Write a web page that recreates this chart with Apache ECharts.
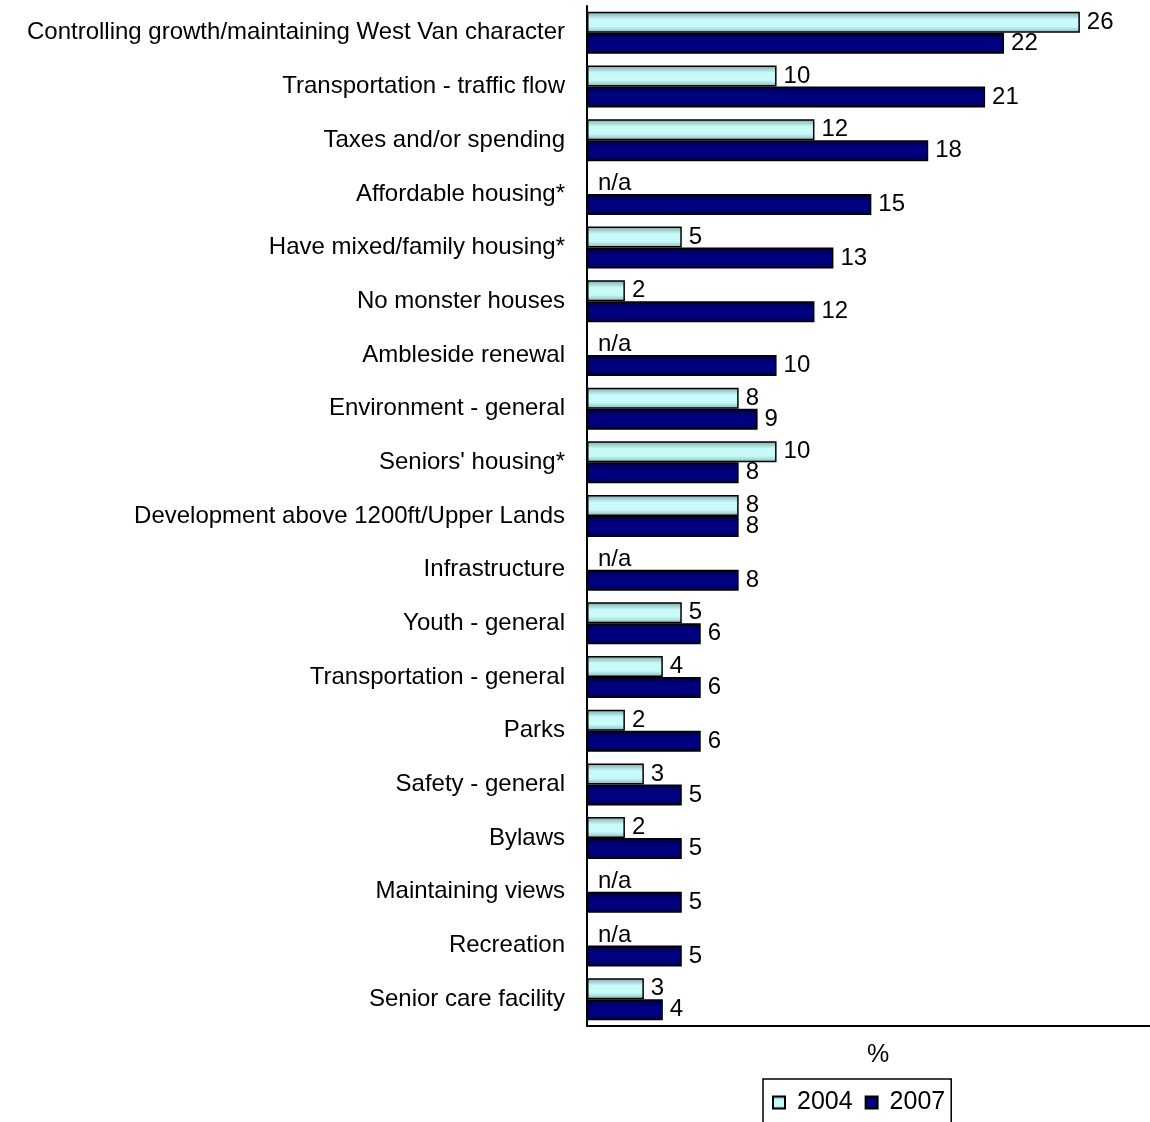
<!DOCTYPE html>
<html>
<head>
<meta charset="utf-8">
<script src="https://cdn.jsdelivr.net/npm/echarts@6/dist/echarts.min.js"></script>
<style>
  html, body { margin: 0; padding: 0; background: #fff; }
  #chart { width: 1150px; height: 1122px; }
</style>
</head>
<body>
<div id="chart"></div>
<script>
// Issues mentioned, top to bottom
const categories = [
  'Controlling growth/maintaining West Van character',
  'Transportation - traffic flow',
  'Taxes and/or spending',
  'Affordable housing*',
  'Have mixed/family housing*',
  'No monster houses',
  'Ambleside renewal',
  'Environment - general',
  "Seniors' housing*",
  'Development above 1200ft/Upper Lands',
  'Infrastructure',
  'Youth - general',
  'Transportation - general',
  'Parks',
  'Safety - general',
  'Bylaws',
  'Maintaining views',
  'Recreation',
  'Senior care facility'
];

// Percent values; null = not asked that year (n/a)
const values2004 = [26, 10, 12, null, 5, 2, null, 8, 10, 8, null, 5, 4, 2, 3, 2, null, null, 3];
const values2007 = [22, 21, 18, 15, 13, 12, 10, 9, 8, 8, 8, 6, 6, 6, 5, 5, 5, 5, 4];

const seriesNames = ['2004', '2007'];

const FONT = 'Liberation Sans, Arial, sans-serif';

const lightFill = new echarts.graphic.LinearGradient(0, 0, 0, 1, [
  { offset: 0, color: '#7fa6a6' },
  { offset: 0.35, color: '#c8fafa' },
  { offset: 0.7, color: '#c8fafa' },
  { offset: 1, color: '#8ab4b4' }
]);
const navyFill = new echarts.graphic.LinearGradient(0, 0, 0, 1, [
  { offset: 0, color: '#00003a' },
  { offset: 0.35, color: '#000080' },
  { offset: 0.7, color: '#000080' },
  { offset: 1, color: '#00004a' }
]);

function toData(values) {
  return values.map(v => v === null
    ? { value: 0, itemStyle: { color: 'rgba(0,0,0,0)', borderWidth: 0 }, label: { formatter: 'n/a', distance: 11 } }
    : v);
}

const labelStyle = {
  show: true,
  position: 'right',
  distance: 7,
  color: '#000',
  fontSize: 24,
  fontFamily: FONT
};

const chart = echarts.init(document.getElementById('chart'));
chart.setOption({
  animation: false,
  backgroundColor: '#fff',
  textStyle: { fontFamily: FONT },
  grid: { left: 587, right: 0, top: 6, bottom: 96 },
  xAxis: {
    type: 'value',
    min: 0,
    max: 29.7,
    axisLine: { show: true, lineStyle: { color: '#000', width: 2 } },
    axisTick: { show: false },
    axisLabel: { show: false },
    splitLine: { show: false }
  },
  yAxis: {
    type: 'category',
    inverse: true,
    data: categories,
    axisLine: { show: true, lineStyle: { color: '#000', width: 2 } },
    axisTick: { show: false },
    axisLabel: { color: '#000', fontSize: 24, margin: 22, fontFamily: FONT }
  },
  title: {
    text: '%',
    left: 873,
    top: 1038,
    textAlign: 'center',
    textStyle: { fontSize: 25, fontWeight: 'normal', color: '#000', fontFamily: FONT }
  },
  legend: {
    left: 763,
    top: 1079,
    orient: 'horizontal',
    data: seriesNames,
    icon: 'rect',
    itemWidth: 12,
    itemHeight: 12,
    itemGap: 12,
    borderColor: '#000',
    borderWidth: 1.5,
    padding: [11, 6, 24, 9],
    textStyle: { color: '#000', fontSize: 25, padding: [0, 0, 0, 7], fontFamily: FONT }
  },
  series: [
    {
      name: seriesNames[0],
      type: 'bar',
      data: toData(values2004),
      barWidth: 21,
      barGap: '0%',
      itemStyle: { color: lightFill, borderColor: '#000', borderWidth: 1.5 },
      label: labelStyle
    },
    {
      name: seriesNames[1],
      type: 'bar',
      data: toData(values2007),
      barWidth: 21,
      barGap: '0%',
      itemStyle: { color: navyFill, borderColor: '#000', borderWidth: 1.5 },
      label: labelStyle
    }
  ]
});
</script>
</body>
</html>
